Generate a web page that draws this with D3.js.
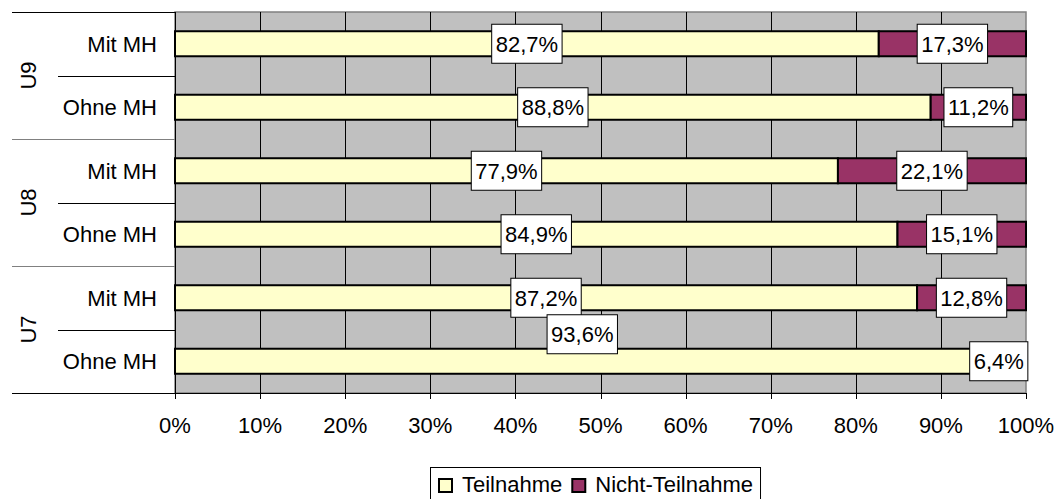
<!DOCTYPE html>
<html lang="de">
<head>
<meta charset="utf-8">
<style type="text/css">
    body { margin: 0; background: #fff; }
    svg { display: block; font-family: "Liberation Sans", Arial, sans-serif; }
    .grid line { stroke: #000; stroke-width: 1px; }
    .tick-label { font-size: 22px; fill: #000; }
</style>
</head>
<body>
<svg width="1056" height="499"></svg>

<script src="https://d3js.org/d3.v7.min.js"></script>
<script type="text/javascript">
    // data, top row first
    var groups = ["U9", "U8", "U7"];
    var subgroups = ["Mit MH", "Ohne MH"];
    var teilnahme = [82.7, 88.8, 77.9, 84.9, 87.2, 93.6];
    var nichtTeilnahme = [17.3, 11.2, 22.1, 15.1, 12.8, 6.4];
    var seriesNames = ["Teilnahme", "Nicht-Teilnahme"];
    var xTicks = [0, 10, 20, 30, 40, 50, 60, 70, 80, 90, 100];

    var colors = ["#FFFFCC", "#993366"];

    var svg = d3.select("svg");
    var plotLeft = 175, plotRight = 1026, plotTop = 12, plotBottom = 393;

    var rows = [];
    groups.forEach(function (g) {
        subgroups.forEach(function (s) { rows.push(g + "|" + s); });
    });

    var x = d3.scaleLinear().domain([0, 100]).range([plotLeft, plotRight]);
    var y = d3.scaleBand().domain(rows).range([plotTop, plotBottom])
        .paddingInner(0.606).paddingOuter(0.303);
    var step = y.step();

    // plot background
    svg.append("rect")
        .attr("x", plotLeft).attr("y", plotTop)
        .attr("width", plotRight - plotLeft).attr("height", plotBottom - plotTop)
        .attr("fill", "#C0C0C0")
        .attr("stroke", "#808080").attr("stroke-width", 1.5);

    // vertical gridlines
    svg.append("g").attr("class", "grid")
        .selectAll("line")
        .data(xTicks.slice(1, -1))
        .enter().append("line")
        .attr("x1", function (d) { return Math.round(x(d)) + 0.5; })
        .attr("x2", function (d) { return Math.round(x(d)) + 0.5; })
        .attr("y1", plotTop).attr("y2", plotBottom);

    // stacked bars
    var stacked = rows.map(function (r, i) {
        return [
            { row: r, i: i, s: 0, x0: 0, x1: teilnahme[i], v: teilnahme[i] },
            { row: r, i: i, s: 1, x0: teilnahme[i], x1: 100, v: nichtTeilnahme[i] }
        ];
    });
    var segs = [].concat.apply([], stacked);

    svg.append("g").selectAll("rect")
        .data(segs)
        .enter().append("rect")
        .attr("x", function (d) { return x(d.x0); })
        .attr("y", function (d) { return y(d.row); })
        .attr("width", function (d) { return x(d.x1) - x(d.x0); })
        .attr("height", y.bandwidth())
        .attr("fill", function (d) { return colors[d.s]; })
        .attr("stroke", "#000")
        .attr("stroke-width", 2);

    // axes lines
    svg.append("line")
        .attr("x1", plotLeft + 0.5).attr("x2", plotLeft + 0.5)
        .attr("y1", plotTop).attr("y2", plotBottom + 6)
        .attr("stroke", "#000");
    svg.append("line")
        .attr("x1", 12).attr("x2", plotRight)
        .attr("y1", plotBottom + 0.5).attr("y2", plotBottom + 0.5)
        .attr("stroke", "#000");

    // x ticks and labels
    var xt = svg.append("g");
    xt.selectAll("line")
        .data(xTicks)
        .enter().append("line")
        .attr("x1", function (d) { return Math.round(x(d)) + 0.5; })
        .attr("x2", function (d) { return Math.round(x(d)) + 0.5; })
        .attr("y1", plotBottom).attr("y2", plotBottom + 6)
        .attr("stroke", "#000");
    xt.selectAll("text")
        .data(xTicks)
        .enter().append("text")
        .attr("class", "tick-label")
        .attr("x", function (d) { return x(d); })
        .attr("y", 433)
        .attr("text-anchor", "middle")
        .text(function (d) { return d + "%"; });

    // y category labels and separators
    var yl = svg.append("g");
    rows.forEach(function (r) {
        var sub = r.split("|")[1];
        yl.append("text")
            .attr("class", "tick-label")
            .attr("x", 157)
            .attr("y", y(r) + y.bandwidth() / 2 + 8)
            .attr("text-anchor", "end")
            .text(sub);
    });
    groups.forEach(function (g, gi) {
        var y0 = y(g + "|" + subgroups[0]) - step * 0.303;
        var ym = y0 + step;
        yl.append("line")
            .attr("x1", 12).attr("x2", plotLeft)
            .attr("y1", Math.round(y0) + 0.5).attr("y2", Math.round(y0) + 0.5)
            .attr("stroke", gi === 0 ? "#000" : "#808080");
        yl.append("line")
            .attr("x1", 58).attr("x2", plotLeft)
            .attr("y1", Math.round(ym) + 0.5).attr("y2", Math.round(ym) + 0.5)
            .attr("stroke", "#000");
        yl.append("text")
            .attr("class", "tick-label")
            .attr("transform", "translate(36," + (y0 + step) + ") rotate(-90)")
            .attr("text-anchor", "middle")
            .text(g);
    });

    // data labels (Excel pushed the bottom-row Teilnahme label up)
    var liftedLabel = { i: 5, s: 0, dx: 9, dy: -27 };
    var labels = svg.append("g");
    segs.forEach(function (d) {
        var cx = x((d.x0 + d.x1) / 2);
        var cy = y(d.row) + y.bandwidth() / 2;
        if (d.i === liftedLabel.i && d.s === liftedLabel.s) {
            cx += liftedLabel.dx; cy += liftedLabel.dy;
        }
        var g = labels.append("g").attr("transform", "translate(" + cx + "," + cy + ")");
        var box = g.append("rect");
        var t = g.append("text")
            .attr("class", "tick-label")
            .attr("text-anchor", "middle")
            .attr("y", 8)
            .text(d.v.toFixed(1).replace(".", ",") + "%");
        var w = t.node().getComputedTextLength() + 8;
        box.attr("x", -w / 2).attr("y", -19.5)
            .attr("width", w).attr("height", 39)
            .attr("fill", "#fff").attr("stroke", "#000").attr("stroke-width", 1);
    });

    // legend
    var lg = svg.append("g").attr("transform", "translate(430,467)");
    var lgBox = lg.append("rect")
        .attr("x", 0.5).attr("y", 0.5)
        .attr("height", 40)
        .attr("fill", "#fff").attr("stroke", "#000");
    var lx = 8;
    seriesNames.forEach(function (n, i) {
        lg.append("rect")
            .attr("x", lx + 1).attr("y", 12)
            .attr("width", 13).attr("height", 13)
            .attr("fill", colors[i]).attr("stroke", "#000").attr("stroke-width", 2);
        var t = lg.append("text")
            .attr("class", "tick-label")
            .attr("x", lx + 24).attr("y", 25)
            .text(n);
        lx += 24 + t.node().getComputedTextLength() + 9;
    });
    lgBox.attr("width", lx - 2);
</script>
</body>
</html>
